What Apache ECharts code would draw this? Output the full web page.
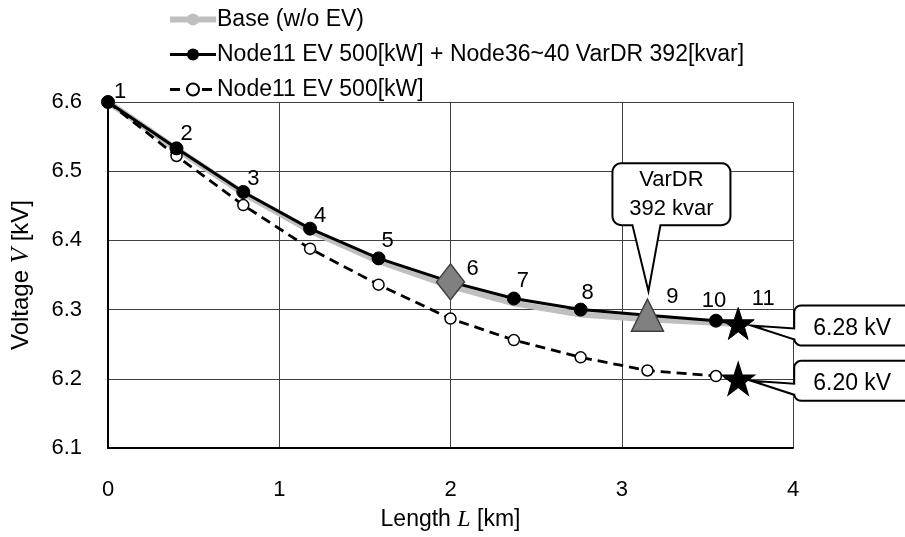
<!DOCTYPE html>
<html>
<head>
<meta charset="utf-8">
<script src="https://cdn.jsdelivr.net/npm/echarts@6/dist/echarts.min.js"></script>
<style>
  html, body { margin: 0; padding: 0; background: #fff; }
  #chart { width: 905px; height: 537px; }
</style>
</head>
<body>
<div id="chart"></div>
<script>
// Feeder voltage profile along the line (node 1 = substation)
const nodeLabels = ['1', '2', '3', '4', '5', '6', '7', '8', '9', '10', '11'];
const lengthKm   = [0, 0.40, 0.79, 1.18, 1.58, 2.00, 2.37, 2.76, 3.15, 3.55, 3.68];
const baseV      = [6.600, 6.532, 6.468, 6.414, 6.370, 6.334, 6.309, 6.293, 6.286, 6.281, 6.279];
const varDrV     = [6.600, 6.533, 6.470, 6.417, 6.374, 6.340, 6.316, 6.300, 6.292, 6.284, 6.28];
const evV        = [6.600, 6.522, 6.451, 6.388, 6.336, 6.287, 6.256, 6.231, 6.212, 6.204, 6.20];
const xTicks     = [0, 1, 2, 3, 4];
const yTicks     = [6.1, 6.2, 6.3, 6.4, 6.5, 6.6];
const seriesNames = ['Base (w/o EV)', 'Node11 EV 500[kW] + Node36~40 VarDR 392[kvar]', 'Node11 EV 500[kW]'];
const varDrNote  = ['VarDR', '392 kvar'];

const FONT = '"Liberation Sans", Arial, sans-serif';
const SERIF = '"Liberation Serif", "Times New Roman", serif';
const STAR = 'path://M50,0 L61.8,35.1 L97.6,35.1 L68.8,56.7 L79.4,90.9 L50,69.1 L20.6,90.9 L31.2,56.7 L2.4,35.1 L38.2,35.1 Z';

// label offsets (px) of node numbers relative to their markers
const labelOffsets = [[12,-10],[10,-14],[10,-13],[10,-13],[9,-17],[22,-13],[9,-18],[7,-17],[25,-18],[-2,-20],[25,-25]];

const chart = echarts.init(document.getElementById('chart'), null, { renderer: 'canvas' });

const varDrData = lengthKm.map((x, i) => {
  const item = {
    value: [x, varDrV[i]],
    label: { show: true, formatter: nodeLabels[i], position: 'inside', offset: labelOffsets[i],
             color: '#000', fontSize: 22, fontFamily: FONT }
  };
  if (i === 5) {
    item.symbol = 'diamond'; item.symbolSize = [28, 36];
    item.itemStyle = { color: '#808080', borderColor: '#3f3f3f', borderWidth: 1.5 };
  } else if (i === 8) {
    item.symbol = 'triangle'; item.symbolSize = [32, 32];
    item.itemStyle = { color: '#808080', borderColor: '#3f3f3f', borderWidth: 1.5 };
  } else if (i === 10) {
    item.symbol = STAR; item.symbolSize = 32;
    item.itemStyle = { color: '#000', borderColor: '#000' };
  }
  return item;
});

const evData = lengthKm.map((x, i) => {
  const item = { value: [x, evV[i]] };
  if (i === 10) {
    item.symbol = STAR; item.symbolSize = 32;
    item.itemStyle = { color: '#000', borderColor: '#000' };
  }
  return item;
});

chart.setOption({
  animation: false,
  backgroundColor: '#fff',
  textStyle: { fontFamily: FONT },
  legend: {
    orient: 'vertical',
    left: 162, top: 3,
    itemWidth: 46, itemHeight: 15, itemGap: 12,
    lineStyle: { width: 'inherit' },
    textStyle: { fontSize: 23, color: '#000', fontFamily: FONT, padding: [0, 0, 0, -4] },
    data: seriesNames
  },
  grid: { left: 108, top: 102, right: 112, bottom: 85, containLabel: false },
  xAxis: {
    type: 'value', min: xTicks[0], max: xTicks[xTicks.length - 1], interval: 1,
    name: 'Length {i|L} [km]', nameLocation: 'middle', nameGap: 60,
    nameTextStyle: { fontSize: 23, color: '#000', fontFamily: FONT,
      rich: { i: { fontFamily: SERIF, fontStyle: 'italic', fontSize: 24, color: '#000' } } },
    axisLine: { show: true, onZero: false, lineStyle: { color: '#000', width: 2 } },
    axisTick: { show: false },
    axisLabel: { fontSize: 22, color: '#000', margin: 31, fontFamily: FONT },
    splitLine: { show: true, lineStyle: { color: '#404040', width: 1 } }
  },
  yAxis: {
    type: 'value', min: yTicks[0], max: yTicks[yTicks.length - 1], interval: 0.1,
    name: 'Voltage {i|V} [kV]', nameLocation: 'middle', nameGap: 74, nameRotate: 90,
    nameTextStyle: { fontSize: 24, color: '#000', fontFamily: FONT,
      rich: { i: { fontFamily: SERIF, fontStyle: 'italic', fontSize: 25, color: '#000' } } },
    axisLine: { show: true, onZero: false, lineStyle: { color: '#000', width: 2 } },
    axisTick: { show: false },
    axisLabel: { fontSize: 22, color: '#000', margin: 26, fontFamily: FONT,
                 formatter: v => v.toFixed(1) },
    splitLine: { show: true, lineStyle: { color: '#404040', width: 1 } }
  },
  series: [
    {
      name: seriesNames[0], type: 'line', z: 2, clip: false,
      data: lengthKm.map((x, i) => [x, baseV[i]]),
      symbol: 'circle', symbolSize: 10, showSymbol: false,
      lineStyle: { color: '#bfbfbf', width: 6 },
      itemStyle: { color: '#bfbfbf' }
    },
    {
      name: seriesNames[2], type: 'line', z: 3, clip: false,
      data: evData,
      symbol: 'circle', symbolSize: 11,
      lineStyle: { color: '#000', width: 2.8, type: [10, 6] },
      itemStyle: { color: '#fff', borderColor: '#000', borderWidth: 1.5 }
    },
    {
      name: seriesNames[1], type: 'line', z: 4, clip: false,
      data: varDrData,
      symbol: 'circle', symbolSize: 13,
      lineStyle: { color: '#000', width: 3 },
      itemStyle: { color: '#000', borderColor: '#000' }
    }
  ]
});

// ---- callouts anchored to data points ----
function arc(cx, cy, r, a0, a1) {
  const pts = [];
  for (let k = 0; k <= 6; k++) {
    const a = (a0 + (a1 - a0) * k / 6) * Math.PI / 180;
    pts.push([cx + r * Math.cos(a), cy + r * Math.sin(a)]);
  }
  return pts;
}
// rounded box whose outline has a pointer on the bottom edge
function bottomPointerBox(x0, y0, x1, y1, r, xa, xb, tip) {
  return [].concat(
    arc(x1 - r, y0 + r, r, -90, 0),
    arc(x1 - r, y1 - r, r, 0, 90),
    [[xb, y1], tip, [xa, y1]],
    arc(x0 + r, y1 - r, r, 90, 180),
    arc(x0 + r, y0 + r, r, 180, 270)
  );
}
// rounded box whose outline has a pointer on the left edge
function leftPointerBox(x0, y0, x1, y1, r, ya, yb, tip) {
  return [].concat(
    arc(x1 - r, y0 + r, r, -90, 0),
    arc(x1 - r, y1 - r, r, 0, 90),
    arc(x0 + r, y1 - r, r, 90, 180),
    [[x0, yb], tip, [x0, ya]],
    arc(x0 + r, y0 + r, r, 180, 270)
  );
}

const p9 = chart.convertToPixel({ seriesIndex: 2 }, [lengthKm[8], varDrV[8]]);
const pHi = chart.convertToPixel({ seriesIndex: 2 }, [lengthKm[10], varDrV[10]]);
const pLo = chart.convertToPixel({ seriesIndex: 1 }, [lengthKm[10], evV[10]]);

const graphics = [];
graphics.push({
  type: 'polygon', z: 100,
  shape: { points: bottomPointerBox(p9[0] - 35, p9[1] - 152, p9[0] + 83, p9[1] - 90, 9,
                                    p9[0] - 15, p9[0] + 13, [p9[0] + 1, p9[1] - 24]) },
  style: { fill: '#fff', stroke: '#000', lineWidth: 2 }
});
graphics.push({
  type: 'text', z: 101, x: p9[0] + 24, y: p9[1] - 121,
  style: { text: varDrNote.join('\n'), fill: '#000', font: '22px ' + FONT,
           align: 'center', verticalAlign: 'middle', lineHeight: 29 }
});

function valueCallout(p, text) {
  const x0 = p[0] + 56;
  graphics.push({
    type: 'polygon', z: 100,
    shape: { points: leftPointerBox(x0, p[1] - 18, x0 + 130, p[1] + 22, 7,
                                    p[1] + 5, p[1] + 16, [p[0] + 13, p[1] + 2]) },
    style: { fill: '#fff', stroke: '#000', lineWidth: 2 }
  });
  graphics.push({
    type: 'text', z: 101, x: x0 + 58, y: p[1] + 5,
    style: { text: text, fill: '#000', font: '23px ' + FONT, align: 'center', verticalAlign: 'middle' }
  });
}
valueCallout(pHi, varDrV[10].toFixed(2) + ' kV');
valueCallout(pLo, evV[10].toFixed(2) + ' kV');

chart.setOption({ graphic: graphics });
</script>
</body>
</html>
